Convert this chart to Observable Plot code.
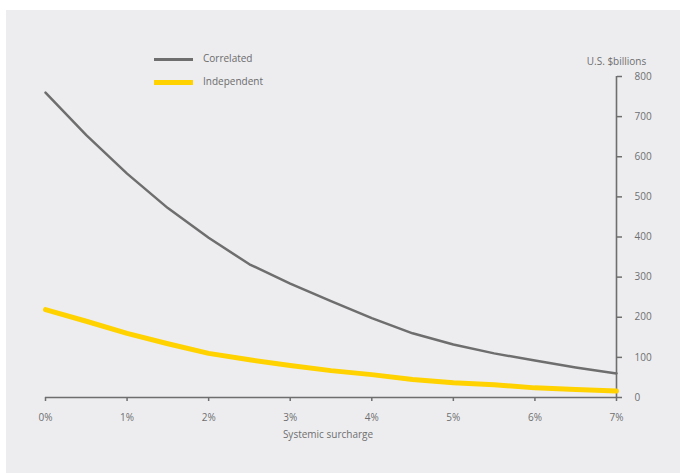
<!DOCTYPE html>
<html>
<head>
<meta charset="utf-8">
<script src="https://cdn.jsdelivr.net/npm/d3@7"></script>
<script src="https://cdn.jsdelivr.net/npm/@observablehq/plot@0.6"></script>
<style>
  html, body { margin: 0; padding: 0; background: #ffffff; }
  #wrap { position: relative; width: 680px; height: 473px; overflow: hidden; background: #ffffff; font-family: "Open Sans", sans-serif; }
  #bg { position: absolute; left: 6px; top: 10px; right: 0; bottom: 0; background: #ededf0; }
  #chart { position: absolute; left: 0; top: 0; }
  .leg { position: absolute; font-size: 10px; color: #6b6b6b; }
  .sw { position: absolute; }
</style>
</head>
<body>
<div id="wrap">
  <div id="bg"></div>
  <div id="chart"></div>
  <div class="sw" style="left:154px; top:58px; width:39px; height:2.5px; background:#6e6e6e;"></div>
  <div class="leg" style="left:203px; top:51px;">Correlated</div>
  <div class="sw" style="left:154px; top:80px; width:39px; height:5px; background:#ffd200;"></div>
  <div class="leg" style="left:203px; top:74px;">Independent</div>
</div>
<script>
const surcharge = [0, 0.5, 1, 1.5, 2, 2.5, 3, 3.5, 4, 4.5, 5, 5.5, 6, 6.5, 7];
const correlated = [760, 654, 558, 472, 398, 332, 284, 240, 198, 160, 132, 110, 92, 75, 60];
const independent = [219, 190, 160, 134, 110, 94, 80, 67, 57, 45, 37, 32, 24, 20, 16];
const xTicks = [0, 1, 2, 3, 4, 5, 6, 7];
const yTicks = [0, 100, 200, 300, 400, 500, 600, 700, 800];
const xLabel = "Systemic surcharge";
const yLabel = "U.S. $billions";

const corr = surcharge.map((s, i) => ({s, v: correlated[i]}));
const ind = surcharge.map((s, i) => ({s, v: independent[i]}));

const gray = "#6e6e6e";
const chart = Plot.plot({
  width: 680,
  height: 473,
  marginLeft: 45,
  marginRight: 64,
  marginTop: 76,
  marginBottom: 76,
  style: {background: "transparent", fontFamily: "Open Sans, sans-serif", fontSize: "10px", color: "#6f6f6f"},
  x: {domain: [0, 7]},
  y: {domain: [0, 800]},
  marks: [
    Plot.axisX({ticks: xTicks, tickFormat: d => d + "%", tickSize: 4, tickPadding: 12, stroke: gray, strokeWidth: 1.5, label: null, fill: "#6f6f6f"}),
    Plot.axisY({ticks: yTicks, anchor: "right", tickSize: 5, tickPadding: 13, textAnchor: "start", stroke: gray, strokeWidth: 1.5, label: null, fill: "#6f6f6f"}),
    Plot.ruleY([0], {x1: 0, x2: 7, stroke: gray, strokeWidth: 1.6}),
    Plot.ruleX([7], {y1: 0, y2: 800, stroke: gray, strokeWidth: 1.6}),
    Plot.line(ind, {x: "s", y: "v", stroke: "#ffd200", strokeWidth: 5}),
    Plot.line(corr, {x: "s", y: "v", stroke: gray, strokeWidth: 2.5}),
    Plot.text([xLabel], {frameAnchor: "bottom", dx: -3, dy: 40, fontSize: 10, fill: "#6f6f6f"}),
    Plot.text([yLabel], {frameAnchor: "top-right", dy: -19, textAnchor: "middle", fontSize: 10, fill: "#6f6f6f"})
  ]
});
document.getElementById("chart").appendChild(chart);
</script>
</body>
</html>
